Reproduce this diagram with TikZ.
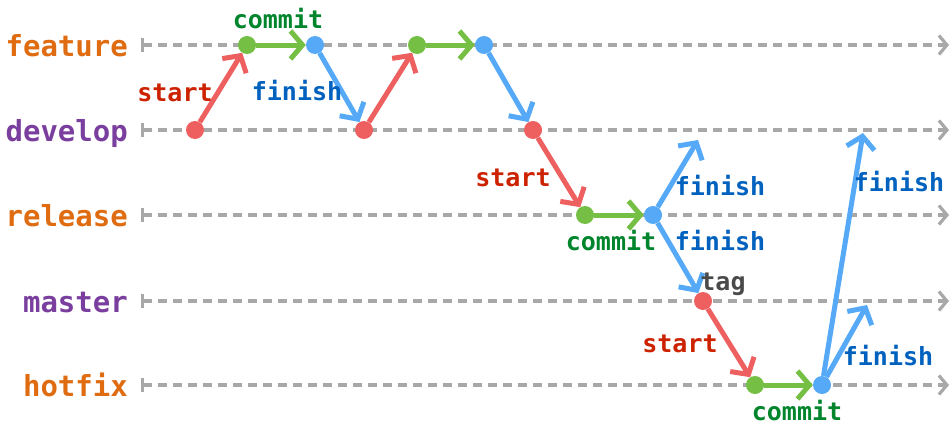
\documentclass[tikz,border=0pt]{standalone}
\usepackage{fontspec}
\setmainfont{DejaVu Sans Mono}
\usetikzlibrary{arrows.meta}
\definecolor{branchorange}{HTML}{E06C12}
\definecolor{branchpurple}{HTML}{7A3F9E}
\definecolor{lanegray}{HTML}{A8A8A8}
\definecolor{redline}{HTML}{EE5F5F}
\definecolor{greenline}{HTML}{74BF44}
\definecolor{blueline}{HTML}{55A9F6}
\definecolor{redtext}{HTML}{CC2200}
\definecolor{greentext}{HTML}{00852C}
\definecolor{bluetext}{HTML}{0062BE}
\definecolor{tagtext}{HTML}{4A4A4A}
\tikzset{
    branch/.style={anchor=base east, inner sep=0, font=\bfseries\fontsize{29}{31}\selectfont},
    lane/.style={draw=lanegray, line width=3.2pt, dash pattern=on 9pt off 6pt,
        {Bar[width=14pt,line width=3.2pt]}-{Straight Barb[length=8pt,width=19pt,line width=3.2pt]}},
    reddot/.style={circle, fill=redline, minimum size=18pt, inner sep=0},
    greendot/.style={circle, fill=greenline, minimum size=18pt, inner sep=0},
    bluedot/.style={circle, fill=blueline, minimum size=18pt, inner sep=0},
    redarrow/.style={draw=redline, line width=5pt, -{Straight Barb[length=12pt,width=28pt,line width=5pt]}},
    greenarrow/.style={draw=greenline, line width=5pt, -{Straight Barb[length=12pt,width=28pt,line width=5pt]}},
    bluearrow/.style={draw=blueline, line width=5pt, -{Straight Barb[length=12pt,width=28pt,line width=5pt]}},
    lbl/.style={inner sep=0, font=\bfseries\fontsize{25}{27}\selectfont}
}

\begin{document}
\begin{tikzpicture}[x=1pt, y=-1pt]
    \useasboundingbox (0,0) rectangle (952,431);
    % branches and their lanes
    \foreach \name/\y/\col in {feature/45/branchorange, develop/130/branchpurple,
            release/215/branchorange, master/301/branchpurple, hotfix/385/branchorange} {
        \node[branch, text=\col] (\name) at (128,\y+11) {\name};
        \coordinate (\name-from) at (141,\y);
        \coordinate (\name-to) at (949,\y);
        \draw[lane] (\name-from) -- (\name-to);
    }

    % commits
    \node[reddot]   (dev1)  at (195,130) {};
    \node[greendot] (feat1) at (247,45)  {};
    \node[bluedot]  (feat2) at (315,45)  {};
    \node[reddot]   (dev2)  at (364,130) {};
    \node[greendot] (feat3) at (417,45)  {};
    \node[bluedot]  (feat4) at (484,45)  {};
    \node[reddot]   (dev3)  at (533,130) {};
    \node[greendot] (rel1)  at (585,215) {};
    \node[bluedot]  (rel2)  at (653,215) {};
    \node[reddot]   (mas1)  at (703,301) {};
    \node[greendot] (hot1)  at (755,385) {};
    \node[bluedot]  (hot2)  at (822,385) {};
    \coordinate (dev4) at (698,140);
    \coordinate (dev5) at (863,133);
    \coordinate (mas2) at (867,305);

    % flow
    \draw[redarrow]   (dev1)  -- (feat1);
    \draw[greenarrow] (feat1) -- (feat2);
    \draw[bluearrow]  (feat2) -- (dev2);
    \draw[redarrow]   (dev2)  -- (feat3);
    \draw[greenarrow] (feat3) -- (feat4);
    \draw[bluearrow]  (feat4) -- (dev3);
    \draw[redarrow]   (dev3)  -- (rel1);
    \draw[greenarrow] (rel1)  -- (rel2);
    \draw[bluearrow]  (rel2)  -- (dev4);
    \draw[bluearrow]  (rel2)  -- (mas1);
    \draw[redarrow]   (mas1)  -- (hot1);
    \draw[greenarrow] (hot1)  -- (hot2);
    \draw[bluearrow]  (hot2)  -- (dev5);
    \draw[bluearrow]  (hot2)  -- (mas2);

    % labels
    \node[lbl, text=greentext] (commit1) at (278,19)  {commit};
    \node[lbl, text=redtext]   (start1)  at (175,93)  {start};
    \node[lbl, text=bluetext]  (finish1) at (297,91)  {finish};
    \node[lbl, text=redtext]   (start2)  at (513,178) {start};
    \node[lbl, text=greentext] (commit2) at (611,241) {commit};
    \node[lbl, text=bluetext]  (finish2) at (720,186) {finish};
    \node[lbl, text=bluetext]  (finish3) at (720,241) {finish};
    \node[lbl, text=tagtext]   (tag1)    at (723,284) {tag};
    \node[lbl, text=redtext]   (start3)  at (680,344) {start};
    \node[lbl, text=greentext] (commit3) at (797,411) {commit};
    \node[lbl, text=bluetext]  (finish4) at (899,182) {finish};
    \node[lbl, text=bluetext]  (finish5) at (888,356) {finish};
\end{tikzpicture}
\end{document}
